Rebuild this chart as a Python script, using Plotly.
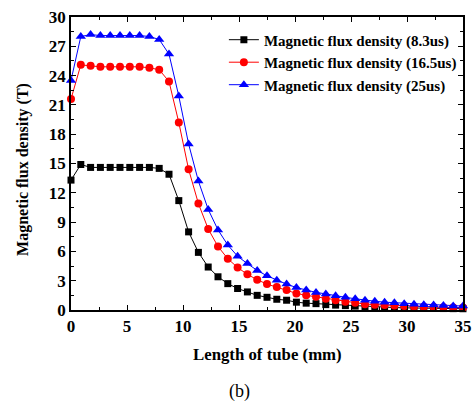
import numpy as np
import plotly.graph_objects as go

x_mm = [i * 0.875 for i in range(41)]

b_8_3us = [13.3, 14.9, 14.6, 14.6, 14.6, 14.6, 14.6, 14.6, 14.6, 14.5,
           13.9, 11.2, 8.0, 5.9, 4.4, 3.4, 2.7, 2.2, 1.85, 1.5,
           1.3, 1.1, 1.0, 0.8, 0.7, 0.65, 0.55, 0.5, 0.45, 0.4,
           0.33, 0.3, 0.27, 0.25, 0.22, 0.2, 0.18, 0.17, 0.15, 0.14, 0.13]
b_16_5us = [21.6, 25.1, 25.0, 24.9, 24.9, 24.9, 24.9, 24.9, 24.8, 24.6,
            23.4, 19.2, 14.4, 10.9, 8.3, 6.5, 5.25, 4.35, 3.65, 3.1,
            2.65, 2.35, 2.05, 1.7, 1.5, 1.35, 1.15, 1.0, 0.85, 0.75,
            0.6, 0.55, 0.5, 0.45, 0.4, 0.37, 0.33, 0.3, 0.28, 0.26, 0.25]
b_25us = [23.5, 28.0, 28.2, 28.1, 28.1, 28.1, 28.1, 28.1, 28.0, 27.7,
          26.2, 21.9, 17.0, 13.2, 10.3, 8.2, 6.65, 5.5, 4.75, 4.05,
          3.5, 3.05, 2.65, 2.3, 2.05, 1.8, 1.65, 1.45, 1.3, 1.15,
          1.0, 0.9, 0.8, 0.75, 0.65, 0.6, 0.55, 0.5, 0.45, 0.42, 0.4]

series_names = ["Magnetic flux density (8.3us)",
                "Magnetic flux density (16.5us)",
                "Magnetic flux density (25us)"]
x_ticks = [0, 5, 10, 15, 20, 25, 30, 35]
y_ticks = [0, 3, 6, 9, 12, 15, 18, 21, 24, 27, 30]

font_fam = "Liberation Serif, Times New Roman, serif"

fig = go.Figure()
styles = [("black", "square", 7), ("red", "circle", 8), ("blue", "triangle-up", 9)]
for name, ys, (col, sym, sz) in zip(series_names, [b_8_3us, b_16_5us, b_25us], styles):
    fig.add_trace(go.Scatter(
        x=x_mm, y=ys, name=name, mode="lines+markers",
        line=dict(color=col, width=1),
        marker=dict(color=col, symbol=sym, size=sz),
        cliponaxis=False,
    ))

axis_common = dict(
    showline=True, linecolor="black", linewidth=1.5, mirror="allticks",
    ticks="inside", ticklen=5, tickwidth=1.2, tickcolor="black",
    showgrid=False, zeroline=False, automargin=False,
    ticklabeloverflow="allow",
    tickfont=dict(family=font_fam, size=17, color="black", weight="bold"),
)

fig.update_xaxes(
    range=[0, 35], tickvals=x_ticks, ticktext=[str(v) for v in x_ticks],
    minor=dict(ticks="inside", dtick=2.5, tick0=0, ticklen=3, tickcolor="black", tickwidth=1),
    **axis_common,
)
fig.update_yaxes(
    range=[0, 30], tickvals=y_ticks, ticktext=[str(v) for v in y_ticks],
    minor=dict(ticks="inside", dtick=1.5, tick0=0, ticklen=3, tickcolor="black", tickwidth=1),
    **axis_common,
)

# axis titles and caption
fig.add_annotation(text="<b>Length of tube (mm)</b>", x=0.5, y=0, xref="paper", yref="paper",
                   yanchor="middle", yshift=-44, showarrow=False,
                   font=dict(family=font_fam, size=16.8, color="black"))
fig.add_annotation(text="<b>Magnetic flux density (T)</b>", x=0, y=0.478, xref="paper", yref="paper",
                   xanchor="center", yanchor="middle", xshift=-48, textangle=-90, showarrow=False,
                   font=dict(family=font_fam, size=16, color="black"))
fig.add_annotation(text="(b)", x=0.43, y=0, xref="paper", yref="paper",
                   yanchor="middle", yshift=-81, showarrow=False,
                   font=dict(family=font_fam, size=18, color="black"))

fig.update_layout(
    width=473, height=403,
    margin=dict(l=71, r=10, t=17, b=93),
    paper_bgcolor="white", plot_bgcolor="white",
    showlegend=True,
    legend=dict(x=0.39, y=0.978, xanchor="left", yanchor="top",
                bgcolor="rgba(0,0,0,0)", borderwidth=0,
                font=dict(family=font_fam, size=15, color="black", weight="bold"),
                itemwidth=30, tracegroupgap=0),
)

fig.write_html("out.html")
